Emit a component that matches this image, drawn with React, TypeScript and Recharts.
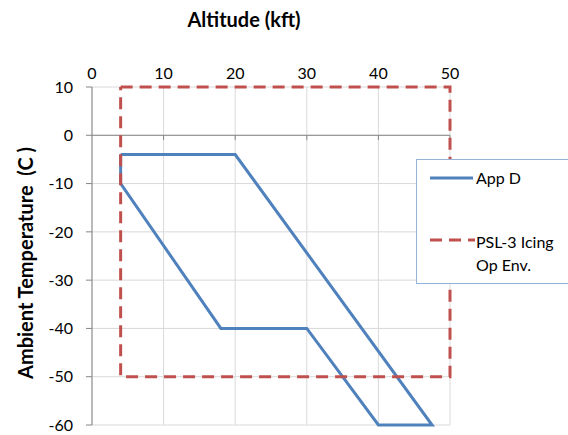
import React from "react";
import {
  LineChart,
  Line,
  XAxis,
  YAxis,
  CartesianGrid,
  ReferenceLine,
} from "recharts";

// App D envelope outline (altitude kft, ambient temperature C)
const appDAltitude = [4, 20, 47.5, 40, 30, 18, 4, 4];
const appDTemperature = [-4, -4, -60, -60, -40, -40, -10, -4];

// PSL-3 icing operating envelope (rectangle)
const envAltitude = [4, 50, 50, 4, 4];
const envTemperature = [10, 10, -50, -50, 10];

const altitudeTicks = [0, 10, 20, 30, 40, 50];
const temperatureTicks = [10, 0, -10, -20, -30, -40, -50, -60];

const seriesNames = ["App D", "PSL-3 Icing Op Env."];

const BLUE = "#4F81BD";
const RED = "#C0504D";
const FONT = "Lato, Carlito, 'Liberation Sans', sans-serif";

const appD = appDAltitude.map((alt, i) => ({ alt, temp: appDTemperature[i] }));
const env = envAltitude.map((alt, i) => ({ alt, temp: envTemperature[i] }));

const LegendBox = () => (
  <div
    style={{
      position: "absolute",
      left: 416,
      top: 159,
      width: 170,
      height: 125,
      border: "1px solid #95B3D7",
      background: "#fff",
      fontFamily: FONT,
      fontSize: 16,
      color: "#000",
      boxSizing: "border-box",
    }}
  >
    <svg width={50} height={10} style={{ position: "absolute", left: 12, top: 13 }}>
      <line x1={1} y1={5} x2={44} y2={5} stroke={BLUE} strokeWidth={3} />
    </svg>
    <div style={{ position: "absolute", left: 59, top: 8, lineHeight: "19px" }}>{seriesNames[0]}</div>
    <svg width={50} height={10} style={{ position: "absolute", left: 12, top: 75 }}>
      <line x1={1} y1={5} x2={46} y2={5} stroke={RED} strokeWidth={3} strokeDasharray="12 7" />
    </svg>
    <div style={{ position: "absolute", left: 59, top: 70, lineHeight: "23px", width: 110 }}>
      PSL-3 Icing
      <br />
      Op Env.
    </div>
  </div>
);

export default function App() {
  return (
    <div style={{ position: "absolute", left: 0, top: 0, width: 568, height: 435, background: "#fff", overflow: "hidden" }}>
      <LineChart
        width={568}
        height={435}
        margin={{ top: 57, right: 118, bottom: 10, left: 52 }}
        style={{ fontFamily: FONT }}
      >
        <CartesianGrid stroke="#D9D9D9" strokeWidth={1} />
        <XAxis
          type="number"
          dataKey="alt"
          orientation="top"
          domain={[0, 50]}
          ticks={altitudeTicks}
          axisLine={false}
          tickLine={false}
          height={30}
          tickMargin={2}
          tick={{ fill: "#000", fontSize: 16, fontFamily: FONT }}
          interval={0}
        />
        <YAxis
          type="number"
          dataKey="temp"
          domain={[-60, 10]}
          ticks={temperatureTicks}
          width={40}
          axisLine={{ stroke: "#868686" }}
          tickLine={{ stroke: "#868686" }}
          tickSize={6}
          tickMargin={13}
          tick={{ fill: "#000", fontSize: 16, fontFamily: FONT }}
          interval={0}
        />
        <ReferenceLine y={0} stroke="#868686" strokeWidth={1} />
        {altitudeTicks.slice(1).map((t) => (
          <ReferenceLine
            key={t}
            segment={[
              { x: t, y: 0 },
              { x: t, y: -1 },
            ]}
            stroke="#868686"
            strokeWidth={1}
          />
        ))}
        <Line
          data={appD}
          dataKey="temp"
          name={seriesNames[0]}
          stroke={BLUE}
          strokeWidth={3}
          dot={false}
          activeDot={false}
          isAnimationActive={false}
        />
        <Line
          data={env}
          dataKey="temp"
          name={seriesNames[1]}
          stroke={RED}
          strokeWidth={3}
          strokeDasharray="12 7"
          dot={false}
          activeDot={false}
          isAnimationActive={false}
        />
      </LineChart>
      <LegendBox />
      <div
        style={{
          position: "absolute",
          left: 144,
          top: 7,
          width: 200,
          textAlign: "center",
          fontFamily: FONT,
          fontWeight: "bold",
          fontSize: 20,
          color: "#000",
        }}
      >
        Altitude (kft)
      </div>
      <div
        style={{
          position: "absolute",
          left: 25,
          top: 263,
          transform: "translate(-50%, -50%) rotate(-90deg)",
          whiteSpace: "pre",
          fontFamily: FONT,
          fontWeight: "bold",
          fontSize: 20,
          color: "#000",
        }}
      >
        {"Ambient Temperature  (C )"}
      </div>
    </div>
  );
}
